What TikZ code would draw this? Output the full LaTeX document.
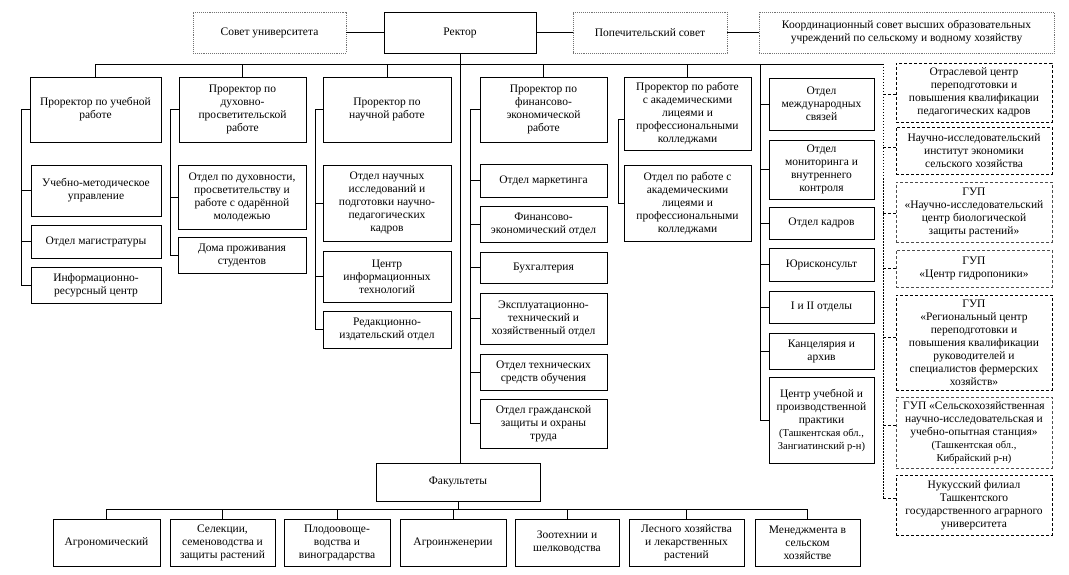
\documentclass[tikz,border=0pt]{standalone}
\usepackage{fontspec}
\setmainfont{Liberation Serif}
\newcommand\fs{\fontsize{11.5}{13}\selectfont}
\newcommand\fss{\fontsize{10.5}{12}\selectfont}
\tikzset{
  box/.style={draw, line width=0.9pt, align=center, inner sep=1pt, font=\fs},
  topbox/.style={box, draw=black!55, densely dotted, line width=0.8pt},
  extbox/.style={box, dash pattern=on 3pt off 2pt, line width=0.9pt},
  extboxl/.style={box, draw=black!70, dash pattern=on 3pt off 2pt, line width=0.8pt},
  ln/.style={line width=0.9pt},
  dl/.style={line width=0.8pt, dash pattern=on 3pt off 2pt},
  dotl/.style={line width=0.8pt, dash pattern=on 1.5pt off 1.5pt},
}
\newcommand\bx[6]{\node[#1, minimum width=#4pt, minimum height=#5pt] (#2) at (#3) {#6};}
\begin{document}
\begin{tikzpicture}[x=1pt,y=-1pt]
\useasboundingbox (0,0) rectangle (1069,575);
% top row
\bx{topbox}{sovet}{269.5,32.5}{153}{41}{Совет университета}
\bx{box}{rector}{460,32.5}{152}{41}{Ректор}
\bx{topbox}{popech}{650,32.5}{154}{41}{Попечительский совет}
\bx{topbox}{koord}{906.5,32.5}{295}{41}{Координационный совет высших образовательных\\учреждений по сельскому и водному хозяйству}
% prorectors
\bx{box}{p1}{95.5,109.5}{131}{65}{Проректор по учебной\\работе}
\bx{box}{p2}{242.5,109.5}{127}{65}{Проректор по\\духовно-\\просветительской\\работе}
\bx{box}{p3}{387,109.5}{128}{65}{Проректор по\\научной работе}
\bx{box}{p4}{543.5,109.5}{127}{65}{Проректор по\\финансово-\\экономической\\работе}
\bx{box}{p5}{687.5,113.5}{127}{73}{Проректор по работе\\с академическими\\лицеями и\\профессиональными\\колледжами}
% col1
\bx{box}{s1a}{96,190.5}{130}{51}{Учебно-методическое\\управление}
\bx{box}{s1b}{96,241.5}{130}{33}{Отдел магистратуры}
\bx{box}{s1c}{96,285}{130}{36}{Информационно-\\ресурсный центр}
% col2
\bx{box}{s2a}{242,197}{128}{64}{Отдел по духовности,\\просветительству и\\работе с одарённой\\молодежью}
\bx{box}{s2b}{242,255}{128}{36}{Дома проживания\\студентов}
% col3
\bx{box}{s3a}{387,203}{128}{76}{Отдел научных\\исследований и\\подготовки научно-\\педагогических\\кадров}
\bx{box}{s3b}{387,276.5}{128}{51}{Центр\\информационных\\технологий}
\bx{box}{s3c}{387,329.5}{128}{37}{Редакционно-\\издательский отдел}
% col4
\bx{box}{s4a}{543.5,180.5}{127}{33}{Отдел маркетинга}
\bx{box}{s4b}{543.5,224}{127}{36}{Финансово-\\экономический отдел}
\bx{box}{s4c}{543.5,267.5}{127}{31}{Бухгалтерия}
\bx{box}{s4d}{543.5,318.5}{127}{51}{Эксплуатационно-\\технический и\\хозяйственный отдел}
\bx{box}{s4e}{543.5,372}{127}{36}{Отдел технических\\средств обучения}
\bx{box}{s4f}{543.5,423.5}{127}{49}{Отдел гражданской\\защиты и охраны\\труда}
% col5
\bx{box}{s5}{687.5,203}{127}{76}{Отдел по работе с\\академическими\\лицеями и\\профессиональными\\колледжами}
% col6
\bx{box}{o6a}{821.5,104}{105}{52}{Отдел\\международных\\связей}
\bx{box}{o6b}{821.5,169.5}{105}{59}{Отдел\\мониторинга и\\внутреннего\\контроля}
\bx{box}{o6c}{821.5,223}{105}{32}{Отдел кадров}
\bx{box}{o6d}{821.5,264.5}{105}{33}{Юрисконсульт}
\bx{box}{o6e}{821.5,307}{105}{32}{I и II отделы}
\bx{box}{o6f}{821.5,351}{105}{36}{Канцелярия и\\архив}
\bx{box}{o6g}{821.5,420}{105}{86}{Центр учебной и\\производственной\\практики\\\fss(Ташкентская обл.,\\\fss Зангиатинский р-н)}
% right column
\bx{extbox}{r1}{974,92.5}{156}{59}{Отраслевой центр\\переподготовки и\\повышения квалификации\\педагогических кадров}
\bx{extbox}{r2}{974,150.5}{156}{47}{Научно-исследовательский\\институт экономики\\сельского хозяйства}
\bx{extboxl}{r3}{974,212}{156}{60}{ГУП\\«Научно-исследовательский\\центр биологической\\защиты растений»}
\bx{extboxl}{r4}{974,268.5}{156}{37}{ГУП\\«Центр гидропоники»}
\bx{extbox}{r5}{974,342.5}{156}{95}{ГУП\\«Региональный центр\\переподготовки и\\повышения квалификации\\руководителей и\\специалистов фермерских\\хозяйств»}
\bx{extboxl}{r6}{974,432.5}{156}{71}{ГУП «Сельскохозяйственная\\научно-исследовательская и\\учебно-опытная станция»\\\fss(Ташкентская обл.,\\\fss Кибрайский р-н)}
\bx{extbox}{r7}{974,505}{156}{60}{Нукусский филиал\\Ташкентского\\государственного аграрного\\университета}
% faculties
\bx{box}{fac}{458,482}{164}{38}{Факультеты}
\bx{box}{f1}{106.5,542.5}{107}{47}{Агрономический}
\bx{box}{f2}{222.5,542.5}{105}{47}{Селекции,\\семеноводства и\\защиты растений}
\bx{box}{f3}{337,542.5}{106}{47}{Плодоовоще-\\водства и\\виноградарства}
\bx{box}{f4}{453,542.5}{106}{47}{Агроинженерии}
\bx{box}{f5}{567,542.5}{104}{47}{Зоотехнии и\\шелководства}
\bx{box}{f6}{686.5,542.5}{115}{47}{Лесного хозяйства\\и лекарственных\\растений}
\bx{box}{f7}{807.5,542.5}{105}{47}{Менеджмента в\\сельском\\хозяйстве}
% top connectors
\draw[ln] (sovet.east) -- (rector.west);
\draw[ln] (rector.east) -- (popech.west);
\draw[ln] (popech.east) -- (koord.west);
% bus
\coordinate (busL) at (97,64);
\coordinate (vr) at (883,64);
\draw[ln] (p1.north |- busL) -- (vr);
\foreach \p in {p1,p2,p3,p4,p5} \draw[ln] (\p.north) -- (\p.north |- busL);
\draw[ln] (rector.south) -- (rector.south |- fac.north);
% col1
\coordinate (v1) at (21,0);
\draw[ln] (p1.west) -- (p1.west -| v1) |- (s1c.west);
\foreach \s in {s1a,s1b} \draw[ln] (\s.west -| v1) -- (\s.west);
% col2
\coordinate (v2) at (170,0);
\draw[ln] (p2.west) -- (p2.west -| v2) |- (s2b.west);
\draw[ln] (s2a.west -| v2) -- (s2a.west);
% col3
\coordinate (v3) at (315,0);
\draw[ln] (p3.west) -- (p3.west -| v3) |- (s3c.west);
\foreach \s in {s3a,s3b} \draw[ln] (\s.west -| v3) -- (\s.west);
% col4
\coordinate (v4) at (470,0);
\draw[ln] (p4.west) -- (p4.west -| v4) |- (s4f.west);
\foreach \s in {s4a,s4b,s4c,s4d,s4e} \draw[ln] (\s.west -| v4) -- (\s.west);
% col5
\coordinate (v5) at (618,119);
\draw[ln] (v5 -| p5.west) -- (v5) |- (s5.west);
% col6
\coordinate (v6) at (760,64);
\draw[ln] (v6) |- (o6g.west);
\foreach \s in {o6a,o6b,o6c,o6d,o6e,o6f} \draw[ln] (\s.west -| v6) -- (\s.west);
% right column
\coordinate (vrb) at (883,498);
\draw[dotl] (vr) -- (vrb);
\coordinate (c1) at (883,94);
\coordinate (c2) at (883,147);
\coordinate (c3) at (883,213);
\coordinate (c4) at (883,268);
\coordinate (c5) at (883,337);
\coordinate (c6) at (883,425);
\draw[dl] (c1) -- (c1 -| r1.west);
\draw[dl] (c2) -- (c2 -| r2.west);
\draw[dl] (c3) -- (c3 -| r3.west);
\draw[dl] (c4) -- (c4 -| r4.west);
\draw[dl] (c5) -- (c5 -| r5.west);
\draw[dl] (c6) -- (c6 -| r6.west);
\draw[dl] (vrb) -- (vrb -| r7.west);
% faculties
\coordinate (fb) at (458,509);
\draw[ln] (fac.south) -- (fac.south |- fb);
\draw[ln] (f1.north |- fb) -- (f7.north |- fb);
\foreach \f in {f1,f2,f3,f4,f5,f6,f7} \draw[ln] (\f.north) -- (\f.north |- fb);
\end{tikzpicture}
\end{document}
